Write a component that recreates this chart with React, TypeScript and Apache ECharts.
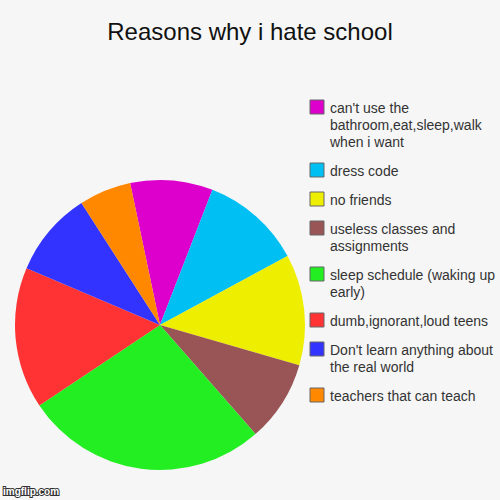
import React, { useEffect, useRef } from 'react';
import * as echarts from 'echarts';

// legend order, top to bottom (also clockwise order of the slices)
const reasons = [
  "can't use the bathroom,eat,sleep,walk when i want",
  'dress code',
  'no friends',
  'useless classes and assignments',
  'sleep schedule (waking up early)',
  'dumb,ignorant,loud teens',
  "Don't learn anything about the real world",
  'teachers that can teach',
];
// how the legend wraps each name
const legendLines = [
  ["can't use the", 'bathroom,eat,sleep,walk', 'when i want'],
  ['dress code'],
  ['no friends'],
  ['useless classes and', 'assignments'],
  ['sleep schedule (waking up', 'early)'],
  ['dumb,ignorant,loud teens'],
  ["Don't learn anything about", 'the real world'],
  ['teachers that can teach'],
];
const amounts = [33.1, 40.4, 44.5, 32.7, 97.5, 56.7, 34.2, 20.9];
const colors = ['#dd00cc', '#00bff3', '#eeee00', '#995555', '#22ee22', '#ff3333', '#3333ff', '#ff8800'];

const FONT = '"Liberation Sans", Arial, sans-serif';

const App: React.FC = () => {
  const chartRef: any = useRef();

  useEffect(() => {
    const chart = echarts.init(chartRef.current, null, { renderer: 'svg' });

    // legend drawn by hand so the swatch sits on the first line of wrapped text
    const legendItems: any[] = [];
    let y = 100;
    legendLines.forEach((lines, i) => {
      legendItems.push({
        type: 'rect',
        shape: { x: 310, y: y, width: 14, height: 14 },
        style: { fill: colors[i], stroke: '#666', lineWidth: 1 },
      });
      legendItems.push({
        type: 'text',
        x: 330,
        y: y - 1,
        style: {
          text: lines.join('\n'),
          fill: '#333',
          font: `14px ${FONT}`,
          lineHeight: 17,
          verticalAlign: 'top',
        },
      });
      y += lines.length * 17 + 12;
    });

    const option = {
      animation: false,
      backgroundColor: '#f6f6f6',
      title: {
        text: 'Reasons why i hate school',
        left: 'center',
        top: 19,
        padding: 0,
        textStyle: { fontFamily: FONT, fontSize: 24, fontWeight: 'normal', color: '#111', lineHeight: 24 },
      },
      graphic: [
        ...legendItems,
        {
          type: 'text',
          x: 3,
          y: 486,
          style: {
            text: 'imgflip.com',
            fill: '#fff',
            stroke: '#333',
            lineWidth: 2,
            font: `bold 10px ${FONT}`,
          },
        },
      ],
      series: [
        {
          name: 'Reasons',
          type: 'pie',
          center: [160, 325],
          radius: 145,
          startAngle: 101.9,
          clockwise: true,
          label: { show: false },
          labelLine: { show: false },
          emphasis: { disabled: true },
          itemStyle: { borderWidth: 0 },
          data: reasons.map((name, i) => ({
            name,
            value: amounts[i],
            itemStyle: { color: colors[i] },
          })),
        },
      ],
    };
    chart.setOption(option);
    return () => {
      chart.dispose();
    };
  }, []);

  return (
    <div
      ref={chartRef}
      style={{ position: 'fixed', left: 0, top: 0, width: 500, height: 500 }}
    ></div>
  );
};

export default App;
